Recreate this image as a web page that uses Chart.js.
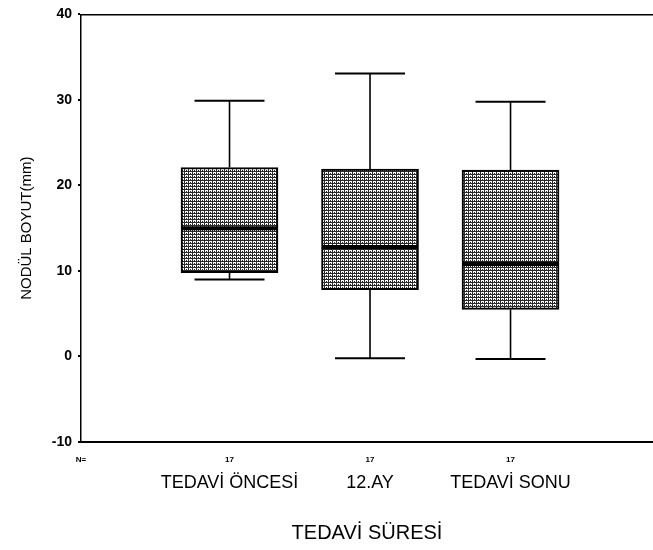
<!DOCTYPE html>
<html>
<head>
<meta charset="utf-8">
<script src="https://cdn.jsdelivr.net/npm/chart.js@4.4.1/dist/chart.umd.min.js"></script>
<style>
  html, body { margin: 0; padding: 0; background: #fff; }
</style>
</head>
<body>
<canvas id="chart" width="653" height="550"></canvas>
<script>
// data
const groups = ['TEDAVİ ÖNCESİ', '12.AY', 'TEDAVİ SONU'];
const positions = [1, 2, 3];
const counts = ['17', '17', '17'];
const minValues = [9.0, -0.2, -0.3];
const q1Values = [9.8, 7.8, 5.5];
const medianValues = [15.0, 12.8, 10.8];
const q3Values = [22.1, 21.9, 21.8];
const maxValues = [29.9, 33.1, 29.8];

const X_MIN = -0.057, X_MAX = 4.014;

Chart.defaults.font.family = '"Liberation Sans", Arial, sans-serif';
Chart.defaults.color = '#000';

const canvas = document.getElementById('chart');
const ctx = canvas.getContext('2d');

// dense grey cross-hatch like the scanned print
function hatch() {
    const c = document.createElement('canvas');
    c.width = 4; c.height = 3;
    const g = c.getContext('2d');
    g.fillStyle = '#fff';
    g.fillRect(0, 0, 4, 3);
    g.fillStyle = '#2a2a2a';
    g.fillRect(0, 0, 4, 1);
    g.fillRect(0, 0, 1, 3);
    g.fillRect(2, 2, 1, 1);
    return ctx.createPattern(c, 'repeat');
}

// whiskers, caps and medians
const boxPlot = {
    id: 'boxPlot',
    afterDatasetsDraw(chart) {
        const x = chart.scales.x, y = chart.scales.y;
        const c = chart.ctx;
        c.save();
        c.strokeStyle = '#000';
        const line = (x1, y1, x2, y2, w) => {
            c.lineWidth = w;
            c.beginPath();
            c.moveTo(x1, y1);
            c.lineTo(x2, y2);
            c.stroke();
        };
        positions.forEach((p, i) => {
            const cx = x.getPixelForValue(p);
            const yMax = y.getPixelForValue(maxValues[i]);
            const yMin = y.getPixelForValue(minValues[i]);
            line(cx, y.getPixelForValue(q3Values[i]), cx, yMax, 1.6);
            line(cx, y.getPixelForValue(q1Values[i]), cx, yMin, 1.6);
            line(cx - 35, yMax, cx + 35, yMax, 2);
            line(cx - 35, yMin, cx + 35, yMin, 2);
            const ym = y.getPixelForValue(medianValues[i]);
            line(cx - 48, ym, cx + 48, ym, 4);
        });
        c.restore();
    }
};

const flatX = {
    type: 'linear',
    min: X_MIN,
    max: X_MAX,
    offset: false,
    grid: { display: false, drawTicks: false, offset: false }
};

new Chart(canvas, {
    type: 'bar',
    data: {
        datasets: [{
            data: positions.map((p, i) => ({ x: p, y: [q1Values[i], q3Values[i]] })),
            backgroundColor: hatch(),
            borderColor: '#000',
            borderWidth: 2,
            borderSkipped: false,
            barThickness: 97,
            xAxisID: 'x',
            yAxisID: 'y'
        }]
    },
    options: {
        responsive: false,
        animation: false,
        devicePixelRatio: 1,
        layout: { padding: 0 },
        plugins: { legend: { display: false }, tooltip: { enabled: false } },
        scales: {
            x: {
                ...flatX,
                position: 'bottom',
                border: { display: true, color: '#000', width: 2 },
                afterBuildTicks: s => { s.ticks = [{ value: X_MIN }].concat(positions.map(v => ({ value: v }))); },
                ticks: {
                    autoSkip: false,
                    maxRotation: 0,
                    padding: 13,
                    font: { size: 8, weight: 'bold' },
                    callback: v => v < 0.5 ? 'N=' : counts[Math.round(v) - 1]
                },
                afterFit: s => { s.height = 22; }
            },
            x2: {
                ...flatX,
                position: 'bottom',
                border: { display: false },
                afterBuildTicks: s => { s.ticks = positions.map(v => ({ value: v })); },
                ticks: {
                    autoSkip: false,
                    maxRotation: 0,
                    padding: 8,
                    font: { size: 18 },
                    callback: v => groups[Math.round(v) - 1]
                },
                title: {
                    display: true,
                    text: 'TEDAVİ SÜRESİ',
                    font: { size: 20 },
                    padding: { top: 0, bottom: 5 }
                },
                afterFit: s => { s.height = 86; }
            },
            xt: {
                ...flatX,
                position: 'top',
                border: { display: true, color: '#000', width: 1.5 },
                ticks: { display: false },
                afterFit: s => { s.height = 13; }
            },
            y: {
                min: -10,
                max: 40,
                grid: {
                    display: true,
                    drawOnChartArea: false,
                    drawTicks: true,
                    tickLength: 3,
                    color: '#000',
                    lineWidth: 2
                },
                border: { display: true, color: '#000', width: 1.5 },
                ticks: {
                    stepSize: 10,
                    padding: 6,
                    font: { size: 14, weight: 'bold' }
                },
                title: {
                    display: true,
                    text: 'NODÜL BOYUT(mm)',
                    font: { size: 15 },
                    padding: { top: 18, bottom: 0 }
                },
                afterFit: s => { s.width = 81; }
            }
        }
    },
    plugins: [boxPlot]
});
</script>
</body>
</html>
